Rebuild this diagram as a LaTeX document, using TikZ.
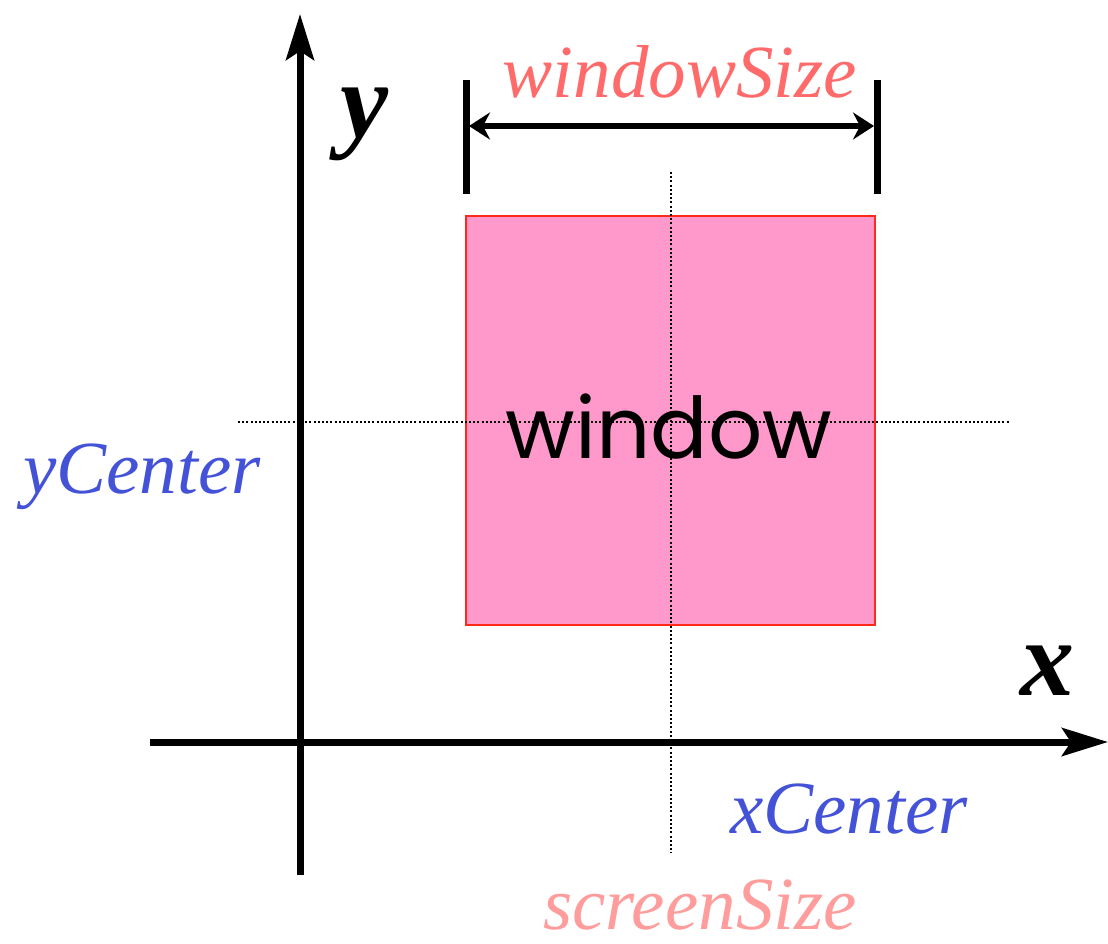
\documentclass[tikz,border=0pt]{standalone}
\usepackage{fontspec}
\setmainfont{Liberation Serif}
\newfontfamily\geofont{Poppins}
\usetikzlibrary{arrows.meta,positioning}
\definecolor{salmon}{HTML}{FF6B6B}
\definecolor{blush}{HTML}{FF9C9C}
\definecolor{azure}{HTML}{4452D8}
\definecolor{winfill}{HTML}{FF99CC}
\definecolor{winline}{HTML}{FF2A1A}
\tikzset{axisline/.style={line width=7pt,-{Stealth[length=46pt,width=28pt,inset=9pt]}},sizebar/.style={line width=7pt},sizearrow/.style={line width=6pt,{Stealth[length=21pt,width=27pt,inset=7pt]}-{Stealth[length=21pt,width=27pt,inset=7pt]}},centerline/.style={line width=1.6pt,dash pattern=on 2pt off 2.2pt},axislabel/.style={font=\fontsize{108}{108}\selectfont\bfseries\itshape,inner sep=0pt,anchor=base},varlabel/.style={font=\fontsize{75}{75}\selectfont\itshape,inner sep=0pt,anchor=base}}

\begin{document}
\begin{tikzpicture}[x=1pt,y=-1pt]
\useasboundingbox (0,0) rectangle (1108,943);
% window
\node[draw=winline,fill=winfill,line width=2pt,minimum width=409pt,minimum height=409pt,inner sep=0pt] (win) at (670.5,420.5) {};
\draw[centerline] (671,172) coordinate (vtop) -- (671,853) coordinate (vbot);
\draw[centerline] (238,422) coordinate (hleft) -- (1010,422) coordinate (hright);
\node[font=\geofont\fontsize{85}{85}\selectfont,inner sep=0pt,anchor=base] (wintext) at (669,458) {window};
% axes
\coordinate (ybot) at (300,875);
\coordinate (ytop) at (300,14);
\coordinate (xleft) at (150,742);
\coordinate (xright) at (1108,742);
\draw[axisline] (ybot) -- (ytop);
\draw[axisline] (xleft) -- (xright);
\node[axislabel] (ylab) at (364,137) {y};
\node[axislabel] (xlab) at (1047,695) {x};
% window size
\draw[sizebar] (466,80) coordinate (lbtop) -- (466,194) coordinate (lbbot);
\draw[sizebar] (877,80) coordinate (rbtop) -- (877,194) coordinate (rbbot);
\coordinate (al) at (469,126);
\coordinate (ar) at (874,126);
\draw[sizearrow] (al) -- (ar);
\node[varlabel,text=salmon] (wsize) at (680,97) {windowSize};
% labels
\node[varlabel,text=azure] (ycenter) at (142,493) {yCenter};
\node[varlabel,text=azure] (xcenter) at (849,833) {xCenter};
\node[varlabel,text=blush] (ssize) at (700,929) {screenSize};
\end{tikzpicture}
\end{document}
